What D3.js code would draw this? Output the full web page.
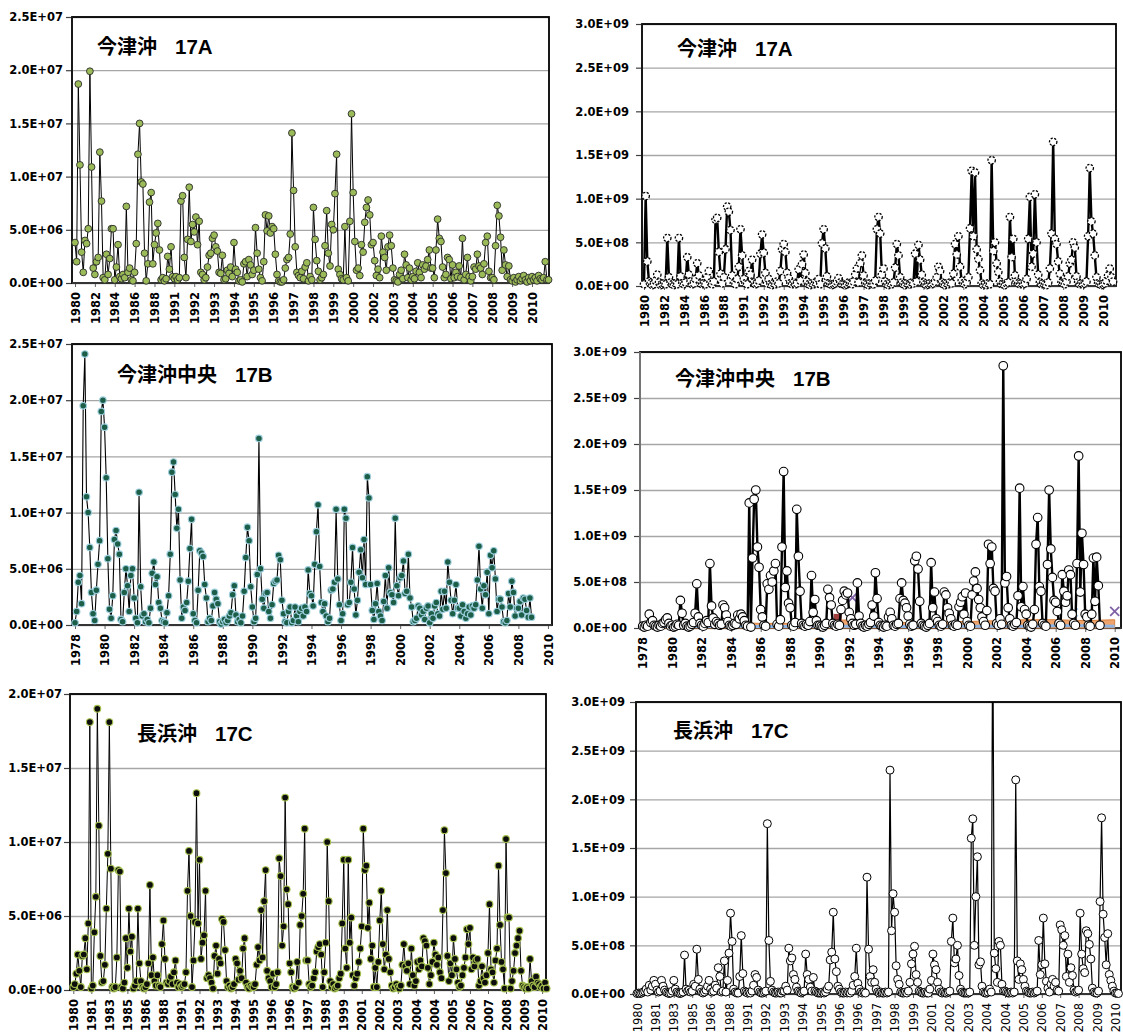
<!DOCTYPE html>
<html>
<head>
<meta charset="utf-8">
<script src="https://cdn.jsdelivr.net/npm/d3@7"></script>
<style>
  body { margin: 0; background: #fff; }
  svg { display: block; }
</style>
</head>
<body>
<svg id="chart" width="1123" height="1034"></svg>
<script>
// ---------------------------------------------------------------
// Station year labels (one label every `perLabel` samples)
// ---------------------------------------------------------------
const yearLabels17A = ['1980','1982','1984','1986','1988','1991','1992','1993','1994','1995','1996','1997',
  '1998','1999','2000','2002','2003','2004','2005','2006','2007','2008','2009','2010'];
const yearLabels17B = ['1978','1980','1982','1984','1986','1988','1990','1992','1994','1996','1998',
  '2000','2002','2004','2006','2008','2010'];
const yearLabels17C = ['1980','1981','1983','1985','1986','1988','1991','1992','1993','1994','1995','1996',
  '1996','1997','1998','1999','2001','2002','2003','2004','2004','2005','2006','2007','2008','2009','2010'];

// ---------------------------------------------------------------
// 17A  left panel, values in units of 1E+06
// ---------------------------------------------------------------
const abundance17A = [
  3.8,2.0,18.7,11.1,2.9,1.0,4.0,3.7,5.1,19.9,10.9,1.4,
  0.8,2.0,2.4,12.3,7.7,0.5,0.3,2.7,0.8,2.3,5.1,5.1,
  0.3,1.5,3.6,0.6,0.4,0.8,0.5,7.2,1.0,1.4,0.3,0.2,
  1.0,3.7,12.1,15.0,9.5,9.3,2.8,0.2,1.8,7.6,8.5,1.8,
  3.6,4.7,5.6,3.1,0.3,0.5,0.2,0.4,2.5,1.3,3.4,0.6,
  0.4,0.6,0.3,0.5,7.7,8.2,2.4,0.5,4.1,9.0,3.9,5.5,
  4.8,6.2,3.6,5.8,1.0,0.8,0.3,0.5,1.5,2.6,2.8,4.2,
  4.5,3.4,3.0,1.0,0.9,2.6,0.3,0.4,1.2,0.9,1.5,0.6,
  3.8,1.3,1.0,0.2,0.3,0.1,1.8,2.0,0.6,2.2,1.7,0.8,
  1.2,5.2,2.8,1.3,0.5,0.2,2.0,6.4,4.9,6.3,4.7,5.3,
  5.1,2.7,0.8,0.2,0.1,0.1,0.3,1.4,2.2,2.4,4.6,14.1,
  8.7,3.4,1.0,0.7,0.5,1.1,0.4,1.5,1.9,0.2,0.6,0.3,
  7.1,4.1,2.1,1.1,0.3,0.5,0.8,3.5,6.8,2.8,1.6,5.5,
  5.0,8.4,12.1,1.3,0.8,0.4,0.3,5.3,0.5,0.2,5.8,15.9,
  8.5,3.9,1.2,1.4,0.7,3.6,2.9,5.7,7.1,7.8,6.4,3.6,
  3.8,2.1,0.7,1.3,0.5,4.4,2.9,2.4,1.2,3.4,4.5,3.5,
  1.4,0.3,0.2,0.1,0.8,1.2,0.4,2.7,1.7,0.5,1.4,0.3,
  0.6,0.4,1.1,1.9,1.0,0.5,1.7,1.3,1.6,2.2,3.1,1.4,
  1.4,0.5,3.1,6.0,4.2,3.9,1.5,0.5,0.8,2.4,2.2,0.4,
  1.7,0.5,1.0,0.6,1.6,0.5,4.2,0.3,0.8,2.4,0.6,0.2,
  0.6,1.5,1.3,2.7,1.6,1.4,0.8,1.8,3.8,4.4,1.1,0.5,
  0.5,0.3,3.5,7.3,6.3,4.3,1.2,3.1,1.7,0.6,1.6,0.3,
  0.2,0.5,0.1,0.3,0.6,0.2,0.4,0.7,0.3,0.1,0.5,0.2,
  0.6,0.3,0.5,0.2,0.7,0.4,0.3,0.5,2.0,0.3,0.3
];

// 17A  right panel, values in units of 1E+08
const load17A = [
  0.2,10.3,2.8,0.5,0.3,0.1,0.2,0.6,1.3,0.4,0.1,0.2,
  0.3,0.2,5.5,1.0,0.4,0.2,0.1,0.3,0.2,5.5,1.1,0.3,
  0.2,0.4,3.3,1.3,0.5,0.2,0.3,0.8,2.6,1.2,0.3,0.2,
  0.3,0.2,1.0,1.7,0.4,0.2,0.5,7.6,7.8,3.9,1.4,0.3,
  1.0,4.2,9.1,8.5,6.4,1.2,0.3,0.2,0.8,2.2,6.5,3.5,
  0.8,0.3,0.2,1.7,1.3,3.0,0.4,0.2,0.3,0.6,3.7,5.9,
  3.8,1.5,0.3,0.8,0.2,0.1,0.3,0.2,0.5,0.3,1.7,4.2,
  4.8,3.9,1.5,0.9,0.3,0.2,0.4,0.2,0.3,1.9,0.6,2.5,
  3.6,1.5,0.5,0.2,0.1,0.3,0.2,0.4,0.3,0.8,0.2,4.9,
  6.5,4.3,1.1,0.3,0.2,0.1,0.2,0.3,0.5,0.9,0.4,0.2,
  0.2,0.1,0.2,0.4,0.3,0.2,0.5,1.3,2.0,0.4,2.6,3.5,
  1.2,0.3,0.2,0.1,0.3,0.2,0.2,0.6,6.5,7.9,6.0,1.3,
  2.0,0.5,0.2,0.1,0.3,0.2,0.4,2.1,4.8,3.5,1.0,0.4,
  0.2,0.1,0.3,0.2,0.2,0.4,0.3,3.7,0.5,4.7,3.0,1.3,
  0.4,0.2,0.1,0.2,0.3,0.2,0.3,0.5,1.0,2.2,1.7,0.4,
  0.2,0.1,0.3,0.2,0.4,0.3,1.4,4.8,3.6,5.7,2.2,0.6,
  0.3,0.2,0.4,1.0,6.6,13.2,5.7,13.0,4.2,3.1,1.8,0.3,
  0.1,0.2,0.1,0.3,0.2,14.4,4.0,5.0,2.6,1.6,0.5,0.2,
  0.2,0.1,0.3,0.4,7.9,3.3,5.4,1.2,0.5,0.3,0.2,0.3,
  0.2,0.3,0.8,5.4,10.2,2.2,3.7,10.5,5.0,1.3,0.4,0.2,
  0.3,0.2,0.1,0.4,2.0,6.0,16.5,5.4,4.8,2.8,1.4,0.4,
  0.3,0.2,0.5,1.1,2.6,3.0,5.0,4.4,1.1,0.4,0.2,0.3,
  0.2,0.3,0.5,5.7,13.5,7.4,6.0,3.5,1.0,0.3,0.2,0.1,
  0.2,0.3,0.6,1.2,2.0,1.0,0.5
];

// ---------------------------------------------------------------
// 17B  left panel, values in units of 1E+06
// ---------------------------------------------------------------
const abundance17B = [
  0.2,1.2,3.8,4.4,1.9,19.5,24.1,11.4,10.0,6.9,2.9,1.0,0.4,3.1,5.4,7.5,19.0,20.0,
  17.6,13.1,5.9,1.4,0.6,2.6,7.6,8.4,7.2,6.3,0.5,0.3,2.9,5.0,3.5,1.2,4.4,5.0,
  2.4,0.6,0.2,11.8,3.4,0.8,1.0,0.3,0.5,0.2,1.5,4.6,5.6,3.6,4.3,2.0,1.5,0.4,
  0.3,0.2,1.1,2.6,6.3,13.6,14.5,11.6,8.6,10.3,4.0,0.6,1.6,1.3,2.0,3.9,6.8,9.4,
  1.0,0.4,0.2,3.1,6.6,6.4,6.1,3.6,2.4,0.3,0.6,0.4,1.7,2.9,2.3,1.9,0.3,0.1,
  0.3,0.5,0.2,0.4,0.8,1.1,2.7,3.5,0.9,0.3,0.5,0.2,0.8,3.0,6.0,8.7,7.5,3.4,
  1.6,0.3,0.6,4.5,16.6,5.0,2.3,1.5,2.8,2.9,1.2,0.6,1.8,3.7,3.9,4.0,6.2,5.8,
  2.2,1.0,0.3,0.2,1.2,1.6,0.2,0.4,1.6,0.8,0.3,1.2,1.5,0.8,1.6,1.2,4.9,2.8,
  2.6,1.7,5.4,8.3,10.7,5.2,2.0,1.2,1.9,0.8,0.3,0.6,3.1,3.2,3.8,10.3,4.1,1.8,
  0.4,1.0,10.3,9.5,1.8,2.0,3.8,6.9,3.2,0.9,2.2,4.7,6.7,4.2,7.6,3.6,13.2,11.3,
  3.6,1.3,0.5,1.9,3.7,1.2,0.8,0.4,2.1,4.4,1.5,5.1,2.9,2.7,2.0,9.5,3.5,2.6,
  4.2,4.4,5.7,2.8,3.0,6.3,2.4,1.6,0.3,0.4,0.6,1.7,1.5,0.9,1.2,0.5,1.5,1.7,
  0.2,1.0,0.6,1.7,2.0,1.0,0.8,3.0,1.4,3.0,1.5,5.6,3.8,2.2,1.0,2.2,3.6,1.5,
  1.5,0.8,1.8,1.2,0.6,1.0,1.6,0.9,1.7,1.5,1.8,4.0,7.0,3.2,1.5,3.5,2.7,4.7,
  1.0,6.2,5.1,6.6,4.1,1.2,2.3,2.3,1.6,0.3,0.2,0.4,2.8,1.6,3.9,2.9,0.8,1.5,
  1.5,2.1,0.9,2.4,2.3,1.3,0.7,2.4,0.7
];

// 17B  right panel, values in units of 1E+08
const load17B = [
  0.2,0.1,0.3,0.2,1.5,0.6,0.8,0.3,0.2,0.1,0.3,0.2,0.5,0.6,0.9,1.1,0.5,0.2,
  0.3,0.1,0.2,0.4,0.3,3.0,1.6,0.3,0.5,0.2,0.1,0.2,0.4,0.6,1.6,4.8,1.2,0.5,
  0.3,0.2,0.5,0.8,0.6,7.0,2.4,1.1,0.4,0.7,0.5,0.3,0.4,2.5,2.2,1.4,0.7,0.3,
  0.2,0.3,0.5,0.4,1.4,1.0,1.5,1.2,0.8,0.3,0.2,13.6,0.1,7.6,14.0,15.0,8.8,6.6,
  2.0,1.2,0.3,0.2,4.8,4.2,5.7,5.0,6.2,7.0,0.4,0.2,0.9,8.8,17.0,4.4,6.2,2.7,
  2.2,0.3,0.2,0.6,12.9,7.8,4.0,0.5,0.3,0.2,0.4,0.3,0.7,5.7,1.7,3.1,0.8,0.3,
  0.3,0.2,0.1,0.3,0.5,4.2,3.3,2.5,0.5,0.3,0.2,0.4,0.3,2.0,3.0,4.0,3.6,3.8,
  1.7,1.0,0.5,0.3,0.4,4.9,1.3,0.5,0.2,0.1,0.3,0.2,0.4,0.6,2.5,1.3,6.0,3.2,
  0.6,0.3,0.2,0.1,0.3,0.2,1.2,1.7,1.0,0.3,0.2,0.4,0.5,3.2,4.9,3.0,2.7,2.2,
  1.3,0.4,0.2,0.3,7.3,7.8,6.4,2.9,0.5,0.3,0.2,0.1,0.3,0.5,7.1,2.2,3.9,1.0,
  0.7,0.3,0.2,0.4,3.9,3.6,2.2,1.6,1.0,0.3,0.2,0.4,0.3,2.3,2.8,3.4,1.5,3.8,
  0.7,0.3,0.2,3.6,5.1,6.1,4.3,3.1,2.2,1.2,0.7,0.3,1.9,9.1,7.0,8.8,4.3,4.0,
  0.5,0.3,1.0,0.4,28.5,4.9,5.6,2.2,1.0,0.3,0.2,0.4,0.6,3.5,15.2,2.3,4.5,2.0,
  1.5,0.3,0.2,0.1,0.4,2.0,9.1,12.0,4.5,4.0,0.5,0.3,0.2,6.9,15.0,8.6,5.5,3.0,
  2.8,1.8,0.5,0.3,5.8,4.0,2.8,3.5,6.3,5.8,1.5,0.5,0.3,7.0,18.7,3.9,10.3,6.9,
  1.5,1.2,0.3,0.2,1.5,7.6,2.9,7.7,4.6,0.3
];

// 17B  right panel, minor series near the base (units of 1E+08), one value per year label
const minorBand17B = [0.6,0.5,0.5,0.6,0.5,0.5,0.7,0.9,0.6,0.6,0.7,0.7,0.8,0.9,0.9,0.8,0.9];
const minorBase17B = [0.15,0.15,0.15,0.15,0.15,0.15,0.2,0.2,0.15,0.15,0.15,0.2,0.2,0.2,0.25,0.25,0.2];
// isolated marks of the other series: [sample index, value]
const crossMarks17B = [[128, 3.3], [288, 1.8]];
const lightCross17B = [[263, 1.7]];
const squareMarks17B = [[119, 1.1]];

// ---------------------------------------------------------------
// 17C  left panel, values in units of 1E+06
// ---------------------------------------------------------------
const abundance17C = [
  0.2,0.4,1.1,2.4,1.3,0.2,2.3,2.4,3.5,1.4,4.5,18.1,
  0.1,0.3,3.9,6.3,19.0,11.1,2.3,0.5,0.6,1.7,5.5,9.2,
  18.1,8.2,0.2,0.1,0.2,2.2,8.1,8.0,0.2,0.1,0.5,3.5,
  1.5,5.5,2.6,3.6,0.1,0.3,0.6,5.5,1.8,0.6,0.2,0.1,
  0.2,0.4,1.8,7.1,1.0,2.2,0.6,0.3,1.0,0.3,0.2,3.1,
  4.7,2.1,0.5,0.4,0.6,0.9,0.4,1.2,2.0,0.5,0.2,0.4,
  0.2,0.3,0.4,1.2,6.7,9.4,5.0,0.2,2.0,4.6,13.3,4.5,
  8.8,2.1,3.2,3.7,6.7,0.8,1.0,0.8,0.5,0.1,2.3,3.0,
  1.1,2.1,1.8,4.8,4.6,2.7,0.6,0.2,0.3,0.1,0.2,0.4,
  2.1,1.8,0.7,1.3,0.8,2.8,3.5,0.5,0.2,0.1,0.3,0.2,
  0.2,0.4,1.7,2.9,2.0,5.4,2.2,6.0,8.1,1.3,0.8,0.6,
  0.2,1.1,0.2,0.4,1.2,8.9,7.7,3.0,4.3,13.0,6.8,5.8,
  1.8,1.2,0.2,0.1,0.2,1.9,0.5,4.4,5.0,6.5,10.9,2.0,
  2.0,0.4,0.2,0.3,0.8,1.2,2.6,2.9,3.1,2.4,0.2,1.2,
  3.2,10.0,6.0,0.6,0.2,0.4,0.1,0.2,0.3,0.8,1.1,4.5,
  8.8,2.8,1.5,8.8,3.2,4.9,1.0,0.3,0.8,1.1,1.9,2.8,
  4.3,10.9,8.1,8.4,4.2,5.9,2.1,3.0,0.2,1.5,0.2,1.9,
  4.7,6.7,3.1,1.4,2.4,5.4,2.1,1.2,0.3,0.1,0.2,0.4,
  0.2,0.1,0.3,1.7,3.1,1.6,1.3,1.8,0.4,2.8,1.0,0.3,
  0.6,1.9,1.4,2.0,1.6,3.5,3.3,3.0,1.5,0.4,1.0,1.9,
  3.2,2.4,1.7,2.2,1.2,0.8,5.4,10.8,7.9,2.3,0.6,1.8,
  1.0,3.5,2.1,1.4,0.5,0.2,0.3,1.0,1.5,2.2,4.1,3.1,
  4.2,1.4,2.2,1.6,2.0,2.1,0.3,0.6,1.6,0.8,0.5,1.0,
  2.5,5.8,1.4,1.2,0.5,2.0,2.8,8.4,4.4,1.9,1.4,0.1,
  10.2,4.9,4.9,0.1,0.6,1.3,2.5,3.0,3.5,4.0,1.3,0.3,
  0.2,0.1,0.2,0.1,2.1,0.6,0.3,0.2,0.9,0.5,0.4,0.2,
  0.3,0.1,0.5,0.1
];

// 17C  right panel, values in units of 1E+08 (one sample runs off the top of the axis)
const load17C = [
  0.05,0.1,0.05,0.1,0.2,0.3,0.5,0.2,0.9,0.4,0.8,1.4,
  1.0,0.4,0.2,0.3,1.4,0.8,0.4,0.2,0.1,0.05,0.1,0.3,
  1.4,0.5,0.2,0.1,0.05,0.1,0.2,4.0,0.5,0.3,0.4,0.2,
  0.3,1.0,0.8,4.6,1.5,0.5,0.2,0.1,0.2,0.4,0.8,1.4,
  0.5,0.2,0.3,0.9,0.6,2.7,1.8,0.2,0.3,3.4,0.2,1.4,
  4.2,8.3,5.4,0.5,0.2,0.1,0.1,1.8,6.0,2.1,0.3,0.2,
  0.1,0.2,0.1,0.3,0.9,2.0,1.7,0.4,0.2,0.1,0.1,0.2,
  0.3,17.5,5.5,1.3,0.4,0.2,0.1,0.1,0.2,0.1,0.1,0.3,
  0.3,0.8,0.4,4.7,3.4,3.7,2.0,1.5,0.7,0.3,0.2,0.1,
  0.2,0.3,4.1,2.0,1.5,0.7,0.3,1.7,0.3,0.2,0.1,0.1,
  0.1,0.2,0.1,0.2,0.5,0.8,3.5,4.3,8.4,3.6,2.3,0.8,
  0.5,0.2,0.1,0.1,0.2,0.1,0.2,0.1,0.3,0.9,1.8,4.7,
  1.1,0.5,0.2,0.1,0.2,0.1,12.0,4.6,1.8,1.2,2.5,1.2,
  0.5,0.2,0.1,0.2,0.1,0.1,0.2,0.1,0.2,23.0,6.5,10.3,
  8.4,2.9,1.5,1.0,0.2,0.1,0.1,0.2,0.1,0.3,1.2,3.1,
  4.1,4.9,2.0,1.2,0.3,0.2,0.1,0.1,0.2,0.1,0.1,0.5,
  1.4,4.1,3.0,2.5,1.2,0.5,0.2,0.1,0.2,0.1,0.1,0.2,
  0.3,5.4,7.8,3.2,3.6,5.0,1.9,0.5,0.2,0.1,0.1,0.1,
  0.1,0.2,16.0,18.0,5.0,10.0,14.1,3.0,3.3,0.8,0.2,0.1,
  0.1,0.2,0.5,0.2,40.0,4.2,2.6,1.2,5.4,5.0,1.0,0.3,
  0.3,0.2,0.1,0.1,0.2,0.1,0.2,22.0,3.4,1.5,3.1,2.5,
  1.5,0.8,0.3,0.2,0.1,0.1,0.2,0.1,0.2,0.3,5.5,2.0,
  3.0,7.8,3.1,1.3,0.6,0.2,1.0,1.5,0.8,1.2,0.4,0.3,
  7.1,6.6,5.0,6.0,1.8,4.1,1.2,2.7,1.9,0.4,0.2,0.3,
  0.4,8.3,4.1,2.6,2.2,6.5,6.2,5.1,3.6,0.6,0.2,0.1,
  0.1,0.3,9.5,18.1,8.2,5.8,3.0,6.2,2.0,1.4,0.8,0.3,
  0.1,0.1,0.05
];

// ---------------------------------------------------------------
// Panel layout and styling
// ---------------------------------------------------------------
const panels = [
  { name: '今津沖', code: '17A', values: abundance17A, unit: 1e6, labels: yearLabels17A, perLabel: 12,
    yMax: 25, yStep: 5, frame: [72, 17, 549, 283], xFirst: 75, xStep: 19.87, labelGap: 3, labelBold: true,
    titleX: 97, titleY: 54,
    line: { color: '#000', width: 1 },
    marker: { r: 3.4, fill: '#9bbb59', stroke: '#2a2a2a', width: 0.9 } },
  { name: '今津沖', code: '17A', values: load17A, unit: 1e8, labels: yearLabels17A, perLabel: 12,
    yMax: 30, yStep: 5, frame: [642, 24, 1116, 286], xFirst: 644, xStep: 19.96, labelGap: 7, labelBold: true,
    titleX: 677, titleY: 56,
    line: { color: '#000', width: 2.4 },
    marker: { r: 3.7, fill: '#fff', stroke: '#000', width: 1.3, dash: '2.2 1.4' } },
  { name: '今津沖中央', code: '17B', values: abundance17B, unit: 1e6, labels: yearLabels17B, perLabel: 18,
    yMax: 25, yStep: 5, frame: [72, 344, 552, 625], xFirst: 75, xStep: 29.56, labelGap: 3, labelBold: true,
    titleX: 117, titleY: 382,
    line: { color: '#000', width: 1.1 },
    marker: { r: 3.3, fill: '#1d5e48', stroke: '#9dcfdf', width: 1.1 } },
  { name: '今津沖中央', code: '17B', values: load17B, unit: 1e8, labels: yearLabels17B, perLabel: 18,
    yMax: 30, yStep: 5, frame: [640, 352, 1121, 628], xFirst: 642.7, xStep: 29.5, labelGap: 7, labelBold: true,
    titleX: 675, titleY: 386, axisColor: '#7f7f7f', extras: true,
    line: { color: '#000', width: 2.4 },
    marker: { r: 4.3, fill: '#fff', stroke: '#000', width: 1.1 } },
  { name: '長浜沖', code: '17C', values: abundance17C, unit: 1e6, labels: yearLabels17C, perLabel: 12,
    yMax: 20, yStep: 5, frame: [70, 694, 546, 990], xFirst: 73.3, xStep: 18.03, labelGap: 2, labelBold: true,
    titleX: 137, titleY: 741,
    line: { color: '#000', width: 1 },
    marker: { r: 3.4, fill: '#0d0d0d', stroke: '#a5c24f', width: 1.1 } },
  { name: '長浜沖', code: '17C', values: load17C, unit: 1e8, labels: yearLabels17C, perLabel: 12,
    yMax: 30, yStep: 5, frame: [636, 702, 1121, 994], xFirst: 637, xStep: 18.4, labelGap: 5, labelBold: false,
    titleX: 673, titleY: 738,
    line: { color: '#000', width: 1.2 },
    marker: { r: 4.0, fill: '#fff', stroke: '#000', width: 1 } }
];

// "2.5E+07" style labels
const sciLabel = v => {
  const [m, e] = v.toExponential(1).split('e');
  const sign = e[0] === '-' ? '-' : '+';
  return m + 'E' + sign + e.replace(/[+-]/, '').padStart(2, '0');
};

const svg = d3.select('#chart');
const tickFont = "'DejaVu Sans', 'Liberation Sans', sans-serif";
const tickSize = 11.5;

panels.forEach((p, pi) => {
  const [L, T, R, B] = p.frame;
  const g = svg.append('g');
  const lastLabelIdx = (p.labels.length - 1) * p.perLabel;
  const x = d3.scaleLinear().domain([0, lastLabelIdx])
    .range([p.xFirst, p.xFirst + (p.labels.length - 1) * p.xStep]);
  const y = d3.scaleLinear().domain([0, p.yMax]).range([B, T]);
  const tickVals = d3.range(0, p.yMax + 1e-9, p.yStep);

  // horizontal gridlines
  g.append('g').attr('transform', `translate(${L},0)`)
    .call(d3.axisLeft(y).tickValues(tickVals).tickSize(-(R - L)).tickFormat(''))
    .call(s => s.select('.domain').remove())
    .selectAll('line').attr('stroke', '#a6a6a6').attr('stroke-width', 1.3);

  // y axis labels and ticks
  const ya = g.append('g').attr('transform', `translate(${L},0)`)
    .call(d3.axisLeft(y).tickValues(tickVals).tickSize(6).tickPadding(p.labelGap)
      .tickFormat(v => sciLabel(v * p.unit)));
  ya.select('.domain').remove();
  ya.selectAll('line').attr('stroke', '#404040').attr('stroke-width', 1.2);
  ya.selectAll('text')
    .style('font-family', tickFont).style('font-weight', 'bold')
    .style('font-size', tickSize + 'px').attr('fill', '#000');

  // x axis (category labels every perLabel samples)
  const labelIdx = p.labels.map((_, i) => i * p.perLabel);
  const xa = g.append('g').attr('transform', `translate(0,${B})`)
    .call(d3.axisBottom(x).tickValues(labelIdx).tickSize(4).tickFormat((d, i) => p.labels[i]));
  xa.select('.domain').remove();
  xa.selectAll('line').attr('stroke', '#606060');
  xa.selectAll('text')
    .attr('transform', 'rotate(-90)')
    .attr('text-anchor', 'end')
    .attr('x', -9).attr('y', 0).attr('dy', '0.36em')
    .style('font-family', tickFont)
    .style('font-weight', p.labelBold ? 'bold' : 'normal')
    .style('font-size', tickSize + 'px').attr('fill', '#000');

  // plot frame
  g.append('rect').attr('x', L).attr('y', T).attr('width', R - L).attr('height', B - T)
    .attr('fill', 'none').attr('stroke', '#000').attr('stroke-width', 1.8);
  g.append('line').attr('x1', L).attr('x2', L).attr('y1', T).attr('y2', B)
    .attr('stroke', p.axisColor || '#1a1a1a').attr('stroke-width', 1.8);
  g.append('line').attr('x1', L).attr('x2', R).attr('y1', B).attr('y2', B)
    .attr('stroke', '#404040').attr('stroke-width', 1.4);

  // clip so off-scale samples stop at the top of the frame
  const clipId = 'clip' + pi;
  svg.append('clipPath').attr('id', clipId).append('rect')
    .attr('x', L - 12).attr('y', T).attr('width', R - L + 24).attr('height', B - T + 12);
  const plot = g.append('g').attr('clip-path', `url(#${clipId})`);

  // minor series near the base of the 17B load panel
  if (p.extras) {
    const bx = d3.scaleLinear().domain([0, minorBand17B.length - 1]).range([x(0), x(lastLabelIdx)]);
    plot.append('path').datum(minorBand17B)
      .attr('d', d3.area().x((d, i) => bx(i)).y0(y(0)).y1(d => y(d)))
      .attr('fill', '#eea46c').attr('stroke', '#d9823f').attr('stroke-width', 1);
    plot.append('path').datum(minorBase17B)
      .attr('d', d3.line().x((d, i) => bx(i)).y(d => y(d)))
      .attr('fill', 'none').attr('stroke', '#8db4e2').attr('stroke-width', 3);
    plot.selectAll('rect.sq').data(squareMarks17B).join('rect').attr('class', 'sq')
      .attr('x', d => x(d[0]) - 4).attr('y', d => y(d[1]) - 4).attr('width', 8).attr('height', 8)
      .attr('fill', '#a0403c');
    const crossPath = (d, s) => `M${x(d[0]) - s},${y(d[1]) - s}L${x(d[0]) + s},${y(d[1]) + s}M${x(d[0]) - s},${y(d[1]) + s}L${x(d[0]) + s},${y(d[1]) - s}`;
    plot.selectAll('path.cx').data(crossMarks17B).join('path').attr('class', 'cx')
      .attr('d', d => crossPath(d, 4.5)).attr('stroke', '#7f62a8').attr('stroke-width', 1.8);
    plot.selectAll('path.lc').data(lightCross17B).join('path').attr('class', 'lc')
      .attr('d', d => crossPath(d, 4)).attr('stroke', '#9cc3e6').attr('stroke-width', 1.8);
  }

  // main series line
  plot.append('path').datum(p.values)
    .attr('d', d3.line().x((d, i) => x(i)).y(d => y(d)))
    .attr('fill', 'none').attr('stroke', p.line.color).attr('stroke-width', p.line.width)
    .attr('stroke-linejoin', 'round');

  // markers
  plot.append('g').selectAll('circle')
    .data(p.values.map((v, i) => [i, v]).filter(d => d[1] <= p.yMax))
    .join('circle')
    .attr('cx', d => x(d[0])).attr('cy', d => y(d[1])).attr('r', p.marker.r)
    .attr('fill', p.marker.fill).attr('stroke', p.marker.stroke)
    .attr('stroke-width', p.marker.width)
    .attr('stroke-dasharray', p.marker.dash || null);

  // station title: place name, ideographic space, station code
  const t = g.append('text').attr('x', p.titleX).attr('y', p.titleY)
    .attr('font-weight', 'bold').attr('fill', '#000');
  t.append('tspan').style('font-family', '"Noto Sans CJK JP", sans-serif')
    .style('font-size', '20px').text(p.name + '\u3000');
  t.append('tspan').style('font-family', '"Liberation Sans", Arial, sans-serif')
    .style('font-size', '20.5px').attr('dx', -2).text(p.code);
});
</script>
</body>
</html>
